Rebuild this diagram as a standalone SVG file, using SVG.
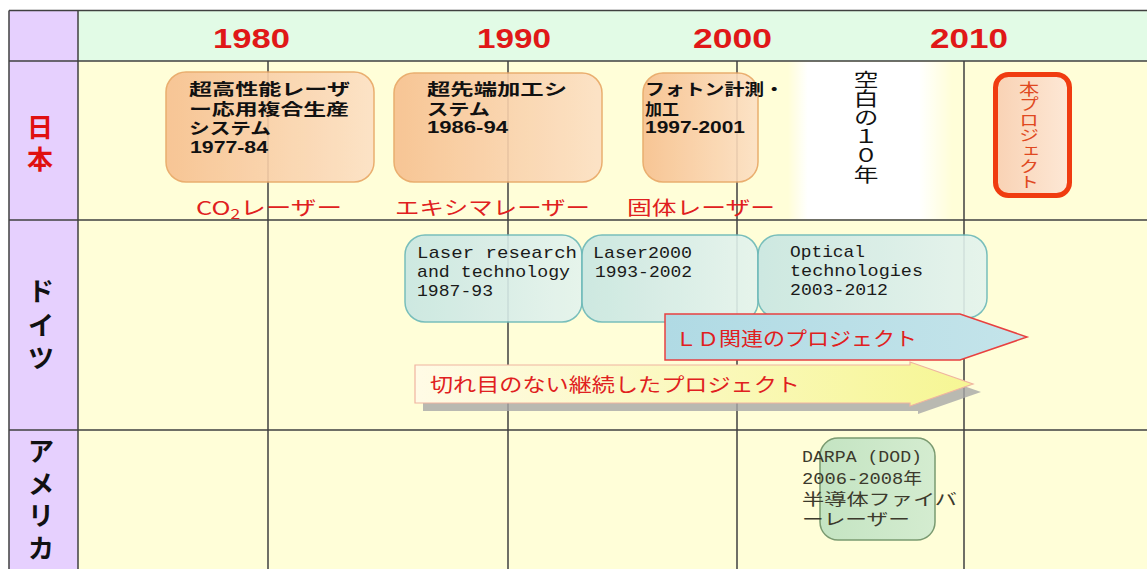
<svg xmlns="http://www.w3.org/2000/svg" width="1147" height="569" viewBox="0 0 1147 569">
<defs>
<linearGradient id="gJp" x1="0" y1="0" x2="1" y2="0"><stop offset="0" stop-color="#f7c08e"/><stop offset="1" stop-color="#fce0c4"/></linearGradient>
<linearGradient id="gDe" x1="0" y1="0" x2="1" y2="0"><stop offset="0" stop-color="#c8e6e2"/><stop offset="1" stop-color="#e4f3ee"/></linearGradient>
<linearGradient id="gUs" x1="0" y1="0" x2="1" y2="0"><stop offset="0" stop-color="#c4e4c2"/><stop offset="1" stop-color="#d4ecd0"/></linearGradient>
<linearGradient id="gHon" x1="0" y1="0" x2="1" y2="0"><stop offset="0" stop-color="#f9d2b4"/><stop offset="1" stop-color="#fde8d6"/></linearGradient>
<linearGradient id="gWhite" x1="0" y1="0" x2="1" y2="0"><stop offset="0" stop-color="#ffffff" stop-opacity="0"/><stop offset="0.12" stop-color="#ffffff" stop-opacity="1"/><stop offset="0.8" stop-color="#ffffff" stop-opacity="1"/><stop offset="1" stop-color="#ffffff" stop-opacity="0"/></linearGradient>
<linearGradient id="gLD" x1="0" y1="0" x2="1" y2="0"><stop offset="0" stop-color="#b0dae4"/><stop offset="1" stop-color="#c4e4ea"/></linearGradient>
<linearGradient id="gBig" x1="0" y1="0" x2="1" y2="0"><stop offset="0" stop-color="#fffbe6"/><stop offset="1" stop-color="#f6f694"/></linearGradient>
<style>
.grid{stroke:#404040;stroke-width:1.5;fill:none}
.year{font-family:"Liberation Sans",Arial,sans-serif;font-weight:bold;font-size:27px;fill:#e01818}
.lab{font-family:"Noto Sans CJK JP",sans-serif;font-weight:bold;font-size:26px;text-anchor:middle}
.jp{font-family:"Noto Sans CJK JP",sans-serif;font-weight:bold;font-size:16px;fill:#111}
.jpn{font-family:"Liberation Sans","Noto Sans CJK JP",sans-serif;font-weight:bold;font-size:16px;fill:#111}
.red{font-family:"Noto Sans CJK JP",sans-serif;font-size:19px;fill:#e02020}
.mono{font-family:"Liberation Mono","Noto Sans CJK JP",monospace;font-size:17px;fill:#1a1a1a}
.us{font-family:"Liberation Mono","Noto Sans CJK JP",monospace;font-size:16px;fill:#3c3a2c}
.boxjp{fill:url(#gJp);stroke:#e8a664;stroke-width:1.5;opacity:0.9}
.boxde{fill:url(#gDe);stroke:#6ab8b8;stroke-width:1.5;opacity:0.9}
.vert{writing-mode:vertical-rl;text-orientation:upright}
</style>
</defs>
<g id="table">
<rect x="9" y="10.5" width="1138" height="50.5" fill="#e2fbe6"/>
<rect x="9" y="10.5" width="69" height="560" fill="#e6d0fe"/>
<rect x="78" y="61" width="1069" height="510" fill="#fffed8"/>
<path class="grid" d="M9 10.5H1147M9 61H1147M9 220H1147M9 430H1147M9 10.5V569M78 10.5V569M268 61V569M508 61V569M737 61V569M964 61V569"/>
<text class="year" x="213" y="48" textLength="77" lengthAdjust="spacingAndGlyphs">1980</text>
<text class="year" x="477" y="48" textLength="74" lengthAdjust="spacingAndGlyphs">1990</text>
<text class="year" x="693" y="48" textLength="79" lengthAdjust="spacingAndGlyphs">2000</text>
<text class="year" x="930" y="48" textLength="78" lengthAdjust="spacingAndGlyphs">2010</text>
<text class="lab" fill="#e01010"><tspan x="40" y="137">日</tspan><tspan x="40" y="169">本</tspan></text>
<text class="lab" fill="#111"><tspan x="41" y="301">ド</tspan><tspan x="41" y="335">イ</tspan><tspan x="41" y="368">ツ</tspan></text>
<text class="lab" fill="#111"><tspan x="41" y="461">ア</tspan><tspan x="41" y="494">メ</tspan><tspan x="41" y="525">リ</tspan><tspan x="41" y="558">カ</tspan></text>
</g>
<g id="jp1">
<rect class="boxjp" x="166" y="72" width="208" height="110" rx="20"/>
<text class="jp" x="189" y="95" textLength="161" lengthAdjust="spacingAndGlyphs">超高性能レーザ</text>
<text class="jp" x="189" y="115" textLength="160" lengthAdjust="spacingAndGlyphs">ー応用複合生産</text>
<text class="jp" x="189" y="134" textLength="82" lengthAdjust="spacingAndGlyphs">システム</text>
<text class="jpn" x="190" y="153" textLength="78" lengthAdjust="spacingAndGlyphs">1977-84</text>
</g>
<g id="jp2">
<rect class="boxjp" x="394" y="73" width="208" height="109" rx="20"/>
<text class="jp" x="427" y="95" textLength="140" lengthAdjust="spacingAndGlyphs">超先端加工シ</text>
<text class="jp" x="427" y="115" textLength="63" lengthAdjust="spacingAndGlyphs">ステム</text>
<text class="jpn" x="427" y="133" textLength="81" lengthAdjust="spacingAndGlyphs">1986-94</text>
</g>
<g id="jp3">
<rect class="boxjp" x="643" y="73" width="115" height="109" rx="20"/>
<text class="jp" x="645" y="95" textLength="139" lengthAdjust="spacingAndGlyphs">フォトン計測・</text>
<text class="jp" x="645" y="115" textLength="34" lengthAdjust="spacingAndGlyphs">加工</text>
<text class="jpn" x="645" y="133" textLength="100" lengthAdjust="spacingAndGlyphs">1997-2001</text>
</g>
<g id="lasers">
<text class="red" x="196" y="215" textLength="146" lengthAdjust="spacingAndGlyphs">CO<tspan font-size="13" dy="4">2</tspan><tspan dy="-4">レーザー</tspan></text>
<text class="red" x="395" y="215" textLength="195" lengthAdjust="spacingAndGlyphs">エキシマレーザー</text>
<text class="red" x="627" y="215" textLength="148" lengthAdjust="spacingAndGlyphs">固体レーザー</text>
</g>
<g id="blank10">
<rect x="788" y="62" width="164" height="157" fill="url(#gWhite)"/>
<text class="vert" transform="translate(866,70) scale(1.3,1)" x="0" y="0" font-family="'Noto Sans CJK JP',sans-serif" font-size="19" fill="#111">空白の１０年</text>
</g>
<g id="honpro">
<rect x="995.5" y="74.5" width="74" height="121" rx="13" fill="url(#gHon)" stroke="#f03c10" stroke-width="5"/>
<text class="vert" transform="translate(1029,81) scale(1.3,1)" x="0" y="0" font-family="'Noto Sans CJK JP',sans-serif" font-size="15.5" fill="#e04820">本プロジェクト</text>
</g>
<g id="de1">
<rect class="boxde" x="405" y="235" width="177" height="87" rx="20"/>
<text class="mono" x="417" y="258" textLength="160" lengthAdjust="spacingAndGlyphs">Laser  research</text>
<text class="mono" x="417" y="277" textLength="153" lengthAdjust="spacingAndGlyphs">and technology</text>
<text class="mono" x="417" y="296" textLength="76" lengthAdjust="spacingAndGlyphs">1987-93</text>
</g>
<g id="de2">
<rect class="boxde" x="582" y="235" width="176" height="87" rx="20"/>
<text class="mono" x="593" y="258" textLength="99" lengthAdjust="spacingAndGlyphs">Laser2000</text>
<text class="mono" x="595" y="277" textLength="97" lengthAdjust="spacingAndGlyphs">1993-2002</text>
</g>
<g id="de3">
<rect class="boxde" x="758" y="235" width="229" height="83" rx="20"/>
<text class="mono" x="790" y="257" textLength="75" lengthAdjust="spacingAndGlyphs">Optical</text>
<text class="mono" x="790" y="276" textLength="133" lengthAdjust="spacingAndGlyphs">technologies</text>
<text class="mono" x="790" y="295" textLength="98" lengthAdjust="spacingAndGlyphs">2003-2012</text>
</g>
<g id="connectors">
<g id="ld-arrow">
<polygon points="665,314 960,314 1027,337 960,360 665,360" fill="url(#gLD)" stroke="#e84040" stroke-width="1.5"/>
<text class="red" x="675" y="346" textLength="242" lengthAdjust="spacingAndGlyphs">ＬＤ関連のプロジェクト</text>
</g>
<g id="continuous-arrow">
<polygon points="423,373 918,373 918,370 981,392 918,414 918,411 423,411" fill="#a8a8a8" opacity="0.8"/>
<polygon points="415,365 910,365 910,362 973,384 910,406 910,403 415,403" fill="url(#gBig)" stroke="#f0b4a0" stroke-width="1.2"/>
<text class="red" x="430" y="392" font-size="20" textLength="370" lengthAdjust="spacingAndGlyphs">切れ目のない継続したプロジェクト</text>
</g>
</g>
<g id="us1">
<rect x="820" y="438" width="115" height="102" rx="18" fill="url(#gUs)" stroke="#7a9a70" stroke-width="1.5"/>
<text class="us" x="802" y="462" textLength="120" lengthAdjust="spacingAndGlyphs">DARPA (DOD)</text>
<text class="us" x="802" y="484" textLength="120" lengthAdjust="spacingAndGlyphs">2006-2008年</text>
<text class="us" x="802" y="505" textLength="155" lengthAdjust="spacingAndGlyphs">半導体ファイバ</text>
<text class="us" x="802" y="525" textLength="108" lengthAdjust="spacingAndGlyphs">ーレーザー</text>
</g>
</svg>
